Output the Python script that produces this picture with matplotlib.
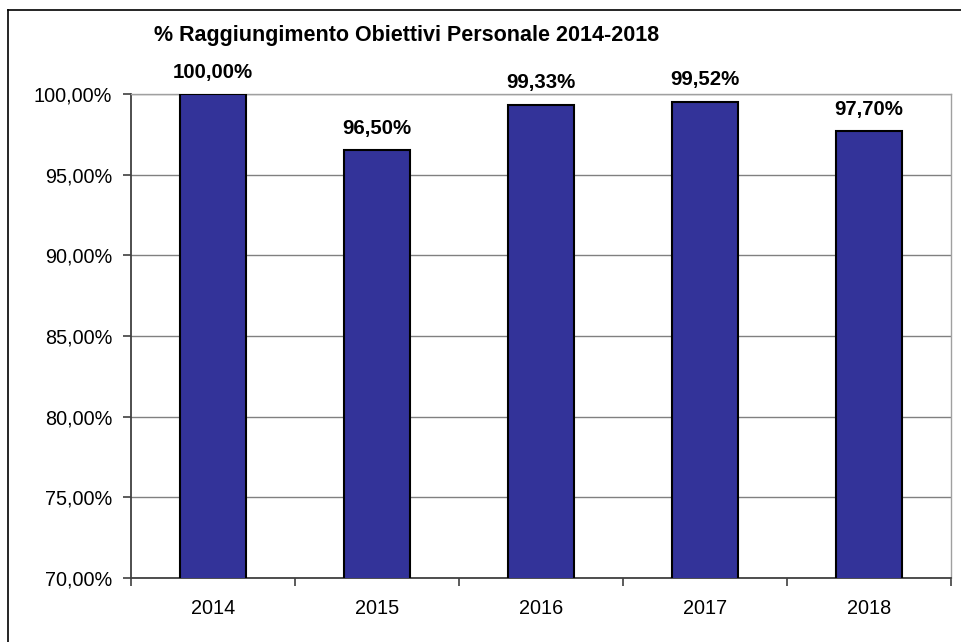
import matplotlib

matplotlib.use("Agg")

import matplotlib.pyplot as plt
from matplotlib.lines import Line2D

plt.rcParams["font.family"] = ["Liberation Sans", "DejaVu Sans"]

YEARS = ["2014", "2015", "2016", "2017", "2018"]
VALUES = [100.00, 96.50, 99.33, 99.52, 97.70]
Y_TICKS = [70, 75, 80, 85, 90, 95, 100]
TITLE = "% Raggiungimento Obiettivi Personale 2014-2018"

BAR_COLOR = "#333399"


def _fmt(v: float) -> str:
    return f"{v:.2f}".replace(".", ",") + "%"


fig = plt.figure(figsize=(9.61, 6.42), dpi=100)
ax = fig.add_axes([131 / 961, 1 - 578 / 642, 820 / 961, 484 / 642])

x = list(range(len(YEARS)))
ax.bar(x, VALUES, width=0.40, color=BAR_COLOR, edgecolor="black",
       linewidth=1.5, zorder=3)

for xi, v in zip(x, VALUES):
    ax.annotate(_fmt(v), xy=(xi, v), xytext=(0, 9), textcoords="offset points",
                ha="center", va="bottom", fontsize=14.7, fontweight="bold")

ax.set_xlim(-0.5, len(YEARS) - 0.5)
ax.set_ylim(70, 100)
ax.set_yticks(Y_TICKS)
ax.set_yticklabels([_fmt(t) for t in Y_TICKS], fontsize=14.3)
ax.set_xticks(x)
ax.set_xticklabels(YEARS, fontsize=14.3)
ax.set_xticks([i + 0.5 for i in range(-1, len(YEARS))], minor=True)
ax.tick_params(axis="x", which="major", length=0, pad=15)
ax.tick_params(axis="x", which="minor", length=5.5, width=1.2, color="#404040")
ax.tick_params(axis="y", length=5.5, width=1.2, color="#404040", pad=8)

ax.grid(axis="y", color="#808080", linewidth=1.0, zorder=0)
ax.set_axisbelow(True)
for side in ("top", "right"):
    ax.spines[side].set_color("#a0a0a0")
    ax.spines[side].set_linewidth(1.0)
for side in ("left", "bottom"):
    ax.spines[side].set_color("#404040")
    ax.spines[side].set_linewidth(1.3)

fig.text(154 / 961, 1 - 36 / 642, TITLE, fontsize=15.5, fontweight="bold",
         ha="left", va="center")

# outer chart border (left and top edges visible)
fig.add_artist(Line2D([8 / 961, 8 / 961], [0, 1 - 10 / 642],
                      transform=fig.transFigure, color="black", linewidth=1.2))
fig.add_artist(Line2D([8 / 961, 1], [1 - 10 / 642, 1 - 10 / 642],
                      transform=fig.transFigure, color="black", linewidth=1.2))

fig.savefig("out.png", dpi=100)
plt.close(fig)
